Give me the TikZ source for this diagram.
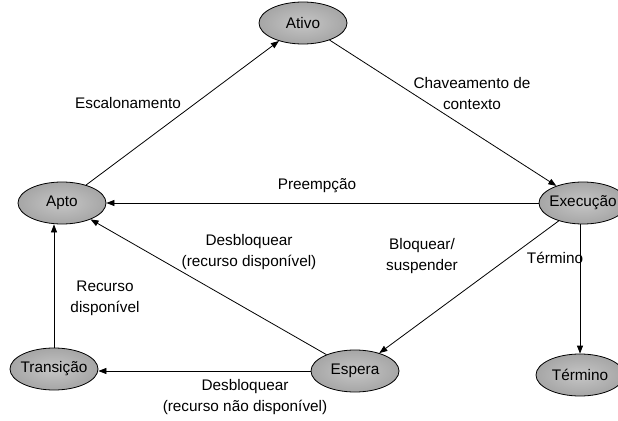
\documentclass[tikz,border=0pt]{standalone}
\usepackage{fontspec}
\setmainfont{Liberation Sans}
\usetikzlibrary{shapes.geometric}
\usetikzlibrary{positioning}
\usetikzlibrary{arrows.meta}

\tikzset{
  estado/.style={draw, ellipse, line width=0.6pt, inner color=gray!45, outer color=gray!70,
    minimum width=66pt, minimum height=31.5pt, inner xsep=-2pt, inner ysep=0pt},
  seta/.style={-{Triangle[length=6pt,width=4.5pt]}, line width=0.6pt},
  rotulo/.style={align=center, inner sep=0pt}
}

\begin{document}
\begin{tikzpicture}[x=0.75pt, y=-0.75pt, font=\fontsize{11.5}{15.75}\selectfont]
            \clip (0,0) rectangle (618,421);
            % Process states
            \node[estado] (ativo) at (303,23) {Ativo};
            \node[estado] (apto) at (62,203) {Apto};
            \node[estado] (execucao) at (583,203) {Execução};
            \node[estado] (transicao) at (54,369) {Transição};
            \node[estado] (espera) at (355,371) {Espera};
            \node[estado] (termino) at (580,375) {Término};

            \draw[seta] (apto) -- (ativo);
            \draw[seta] (ativo) -- (execucao);
            \draw[seta] (execucao) -- (apto);
            \draw[seta] (espera) -- (apto);
            \draw[seta] (execucao) -- (espera);
            \draw[seta] (execucao.south -| termino.north) -- (termino.north);
            \draw[seta] (espera.west) -- (espera.west -| transicao.east);
            \draw[seta] (transicao.north) -- (transicao.north |- apto.south);

            % Transition labels
            \node[rotulo] (lescal) at (128,103) {Escalonamento};
            \node[rotulo] (lchave) at (472,94) {Chaveamento de\\contexto};
            \node[rotulo] (lpreemp) at (317,186) {Preempção};
            \node[rotulo] (ldesbl) at (249,252) {Desbloquear\\(recurso disponível)};
            \node[rotulo] (lbloq) at (422,256) {Bloquear/\\suspender};
            \node[rotulo] (lterm) at (555,258) {Término};
            \node[rotulo] (lrecur) at (105,298) {Recurso\\disponível};
            \node[rotulo] (ldesbl2) at (245,397) {Desbloquear\\(recurso não disponível)};
        \end{tikzpicture}
\end{document}
